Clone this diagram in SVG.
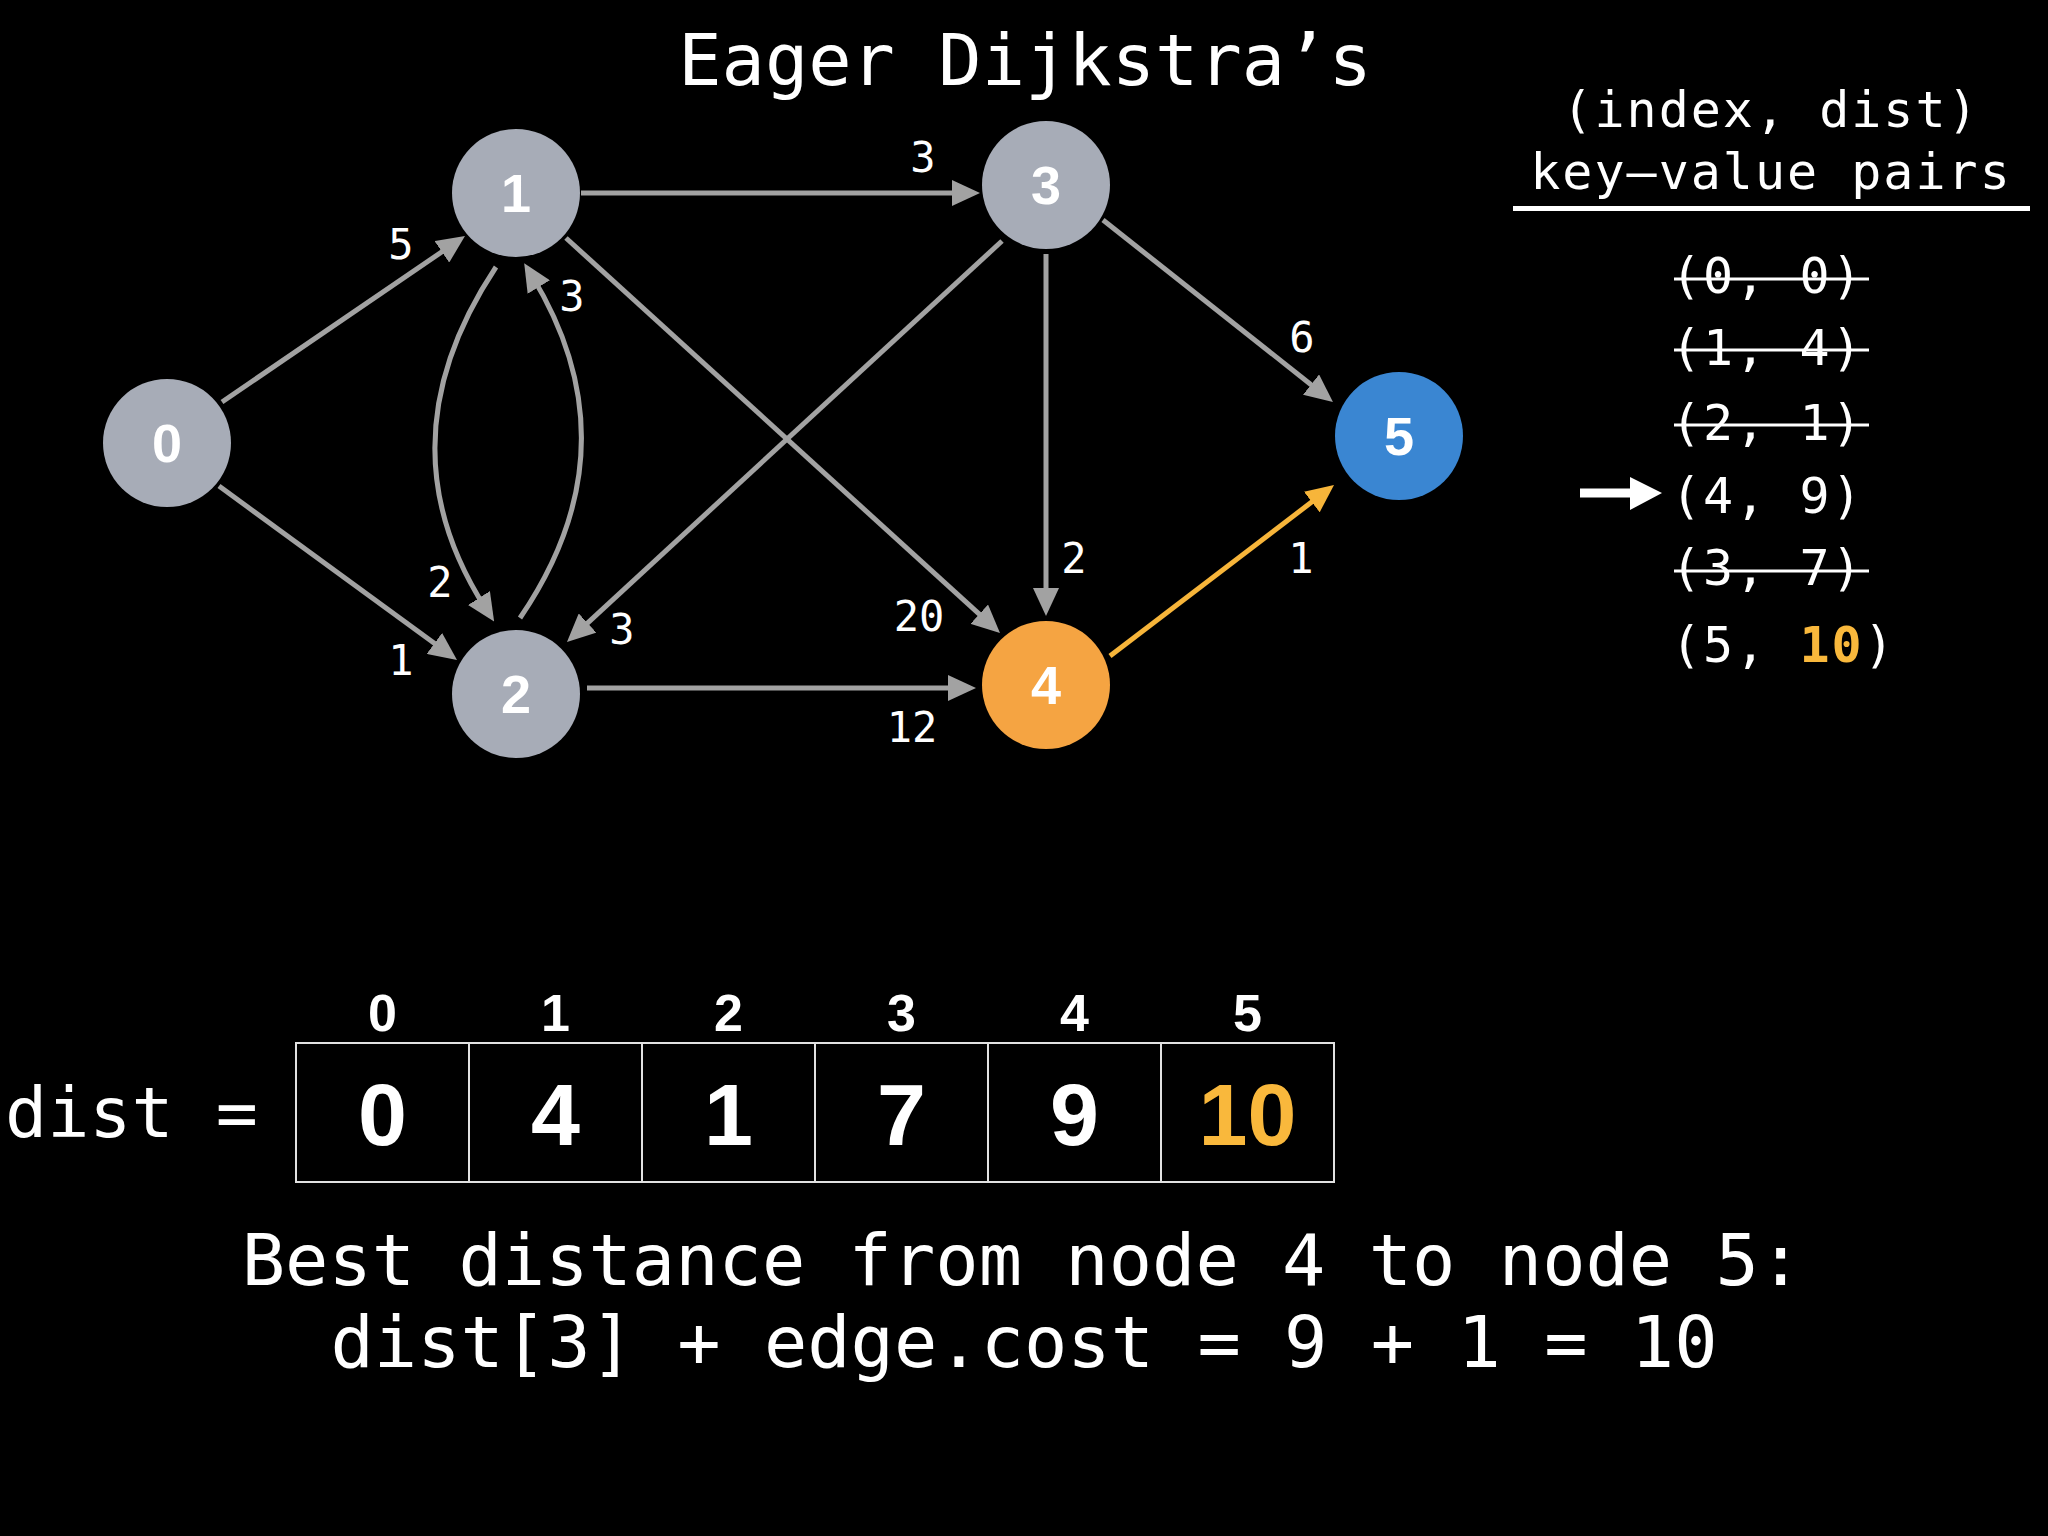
<svg xmlns="http://www.w3.org/2000/svg" width="2048" height="1536" viewBox="0 0 2048 1536">
<defs>
<style>
.mono{font-family:"DejaVu Sans Mono","Liberation Mono",monospace;fill:#fff}
.elab{font-family:"DejaVu Sans Mono","Liberation Mono",monospace;font-size:42px;fill:#fff;text-anchor:middle}
.nlab{font-family:"Liberation Sans",Arial,sans-serif;font-weight:bold;font-size:54px;fill:#fff;text-anchor:middle}
.edge{fill:none;stroke:#a2a2a2;stroke-width:5}
.edge-o{fill:none;stroke:#f7b53a;stroke-width:5}
.gray{fill:#a7acb7}
.hdr{font-family:"Liberation Sans",Arial,sans-serif;font-weight:bold;font-size:52px;fill:#fff;text-anchor:middle}
.val{font-family:"Liberation Sans",Arial,sans-serif;font-weight:bold;font-size:88px;fill:#fff;text-anchor:middle}
.val-o{font-family:"Liberation Sans",Arial,sans-serif;font-weight:bold;font-size:88px;fill:#f9b83c;text-anchor:middle}
.pair{font-family:"DejaVu Sans Mono","Liberation Mono",monospace;font-size:50px;letter-spacing:2px;fill:#fff}
.hi{fill:#f9b83c;font-weight:bold}
.strike{stroke:#fff;stroke-width:3}
</style>
<marker id="ah" markerUnits="userSpaceOnUse" markerWidth="28" markerHeight="26" refX="13" refY="13" orient="auto">
<path d="M0,0 L28,13 L0,26 z" fill="#a2a2a2"/>
</marker>
<marker id="ah-o" markerUnits="userSpaceOnUse" markerWidth="28" markerHeight="26" refX="13" refY="13" orient="auto">
<path d="M0,0 L28,13 L0,26 z" fill="#f7b53a"/>
</marker>
</defs>
<rect width="2048" height="1536" fill="#000"/>
<text class="mono" x="1025" y="85" font-size="72" text-anchor="middle">Eager Dijkstra’s</text>

<g id="connectors">
<line class="edge" x1="222" y1="402" x2="452.6" y2="244.5" marker-end="url(#ah)"/>
<line class="edge" x1="219" y1="486" x2="444.9" y2="651.1" marker-end="url(#ah)"/>
<line class="edge" x1="581" y1="193" x2="965" y2="193" marker-end="url(#ah)"/>
<line class="edge" x1="566" y1="238" x2="988.9" y2="622.9" marker-end="url(#ah)"/>
<line class="edge" x1="1002" y1="241" x2="578" y2="631.8" marker-end="url(#ah)"/>
<line class="edge" x1="1046" y1="254" x2="1046" y2="601" marker-end="url(#ah)"/>
<line class="edge" x1="1103" y1="220" x2="1321.2" y2="392.7" marker-end="url(#ah)"/>
<line class="edge" x1="587" y1="688" x2="961" y2="688" marker-end="url(#ah)"/>
<path class="edge" d="M496,267 Q379,443 486,609" marker-end="url(#ah)"/>
<path class="edge" d="M520,618 Q636.5,447.5 532,276" marker-end="url(#ah)"/>
<line class="edge-o" x1="1110" y1="656" x2="1322.1" y2="494.1" marker-end="url(#ah-o)"/>
</g>

<g id="edge-labels">
<text class="elab" x="401" y="259">5</text>
<text class="elab" x="401" y="675">1</text>
<text class="elab" x="923" y="172">3</text>
<text class="elab" x="572" y="311">3</text>
<text class="elab" x="440" y="597">2</text>
<text class="elab" x="622" y="644">3</text>
<text class="elab" x="919" y="631">20</text>
<text class="elab" x="912" y="742">12</text>
<text class="elab" x="1074" y="573">2</text>
<text class="elab" x="1302" y="352">6</text>
<text class="elab" x="1301" y="573">1</text>
</g>

<g id="node0"><circle class="gray" cx="167" cy="443" r="64"/><text class="nlab" x="167" y="462">0</text></g>
<g id="node1"><circle class="gray" cx="516" cy="193" r="64"/><text class="nlab" x="516" y="212">1</text></g>
<g id="node2"><circle class="gray" cx="516" cy="694" r="64"/><text class="nlab" x="516" y="713">2</text></g>
<g id="node3"><circle class="gray" cx="1046" cy="185" r="64"/><text class="nlab" x="1046" y="204">3</text></g>
<g id="node4"><circle cx="1046" cy="685" r="64" fill="#f5a442"/><text class="nlab" x="1046" y="704">4</text></g>
<g id="node5"><circle cx="1399" cy="436" r="64" fill="#3a86d2"/><text class="nlab" x="1399" y="455">5</text></g>

<g id="pq">
<text class="pair" x="1771" y="127" text-anchor="middle">(index, dist)</text>
<text class="pair" x="1771" y="189" text-anchor="middle">key–value pairs</text>
<rect x="1513" y="206" width="517" height="5" fill="#fff"/>
<text class="pair" x="1671" y="293">(0, 0)</text>
<line class="strike" x1="1674" y1="279" x2="1869" y2="279"/>
<text class="pair" x="1671" y="365">(1, 4)</text>
<line class="strike" x1="1674" y1="350" x2="1869" y2="350"/>
<text class="pair" x="1671" y="440">(2, 1)</text>
<line class="strike" x1="1674" y1="425" x2="1869" y2="425"/>
<path d="M1580,488.5 H1630 V477 L1662,493 L1630,510 V497.5 H1580 z" fill="#fff"/>
<text class="pair" x="1671" y="513">(4, 9)</text>
<text class="pair" x="1671" y="585">(3, 7)</text>
<line class="strike" x1="1674" y1="571" x2="1869" y2="571"/>
<text class="pair" x="1671" y="662">(5, <tspan class="hi">10</tspan>)</text>
</g>

<g id="dist-array">
<text class="mono" x="5" y="1137" font-size="70">dist =</text>
<text class="hdr" x="382.5" y="1031">0</text>
<text class="hdr" x="555.5" y="1031">1</text>
<text class="hdr" x="728.5" y="1031">2</text>
<text class="hdr" x="901.5" y="1031">3</text>
<text class="hdr" x="1074.5" y="1031">4</text>
<text class="hdr" x="1247.5" y="1031">5</text>
<g fill="none" stroke="#e2e2e2" stroke-width="2">
<rect x="296" y="1043" width="1038" height="139"/>
<line x1="469" y1="1043" x2="469" y2="1182"/>
<line x1="642" y1="1043" x2="642" y2="1182"/>
<line x1="815" y1="1043" x2="815" y2="1182"/>
<line x1="988" y1="1043" x2="988" y2="1182"/>
<line x1="1161" y1="1043" x2="1161" y2="1182"/>
</g>
<text class="val" x="382.5" y="1145">0</text>
<text class="val" x="555.5" y="1145">4</text>
<text class="val" x="728.5" y="1145">1</text>
<text class="val" x="901.5" y="1145">7</text>
<text class="val" x="1074.5" y="1145">9</text>
<text class="val-o" x="1247.5" y="1145">10</text>
</g>

<text class="mono" x="1022" y="1285" font-size="72" text-anchor="middle">Best distance from node 4 to node 5:</text>
<text class="mono" x="1024" y="1367" font-size="72" text-anchor="middle">dist[3] + edge.cost = 9 + 1 = 10</text>
</svg>
